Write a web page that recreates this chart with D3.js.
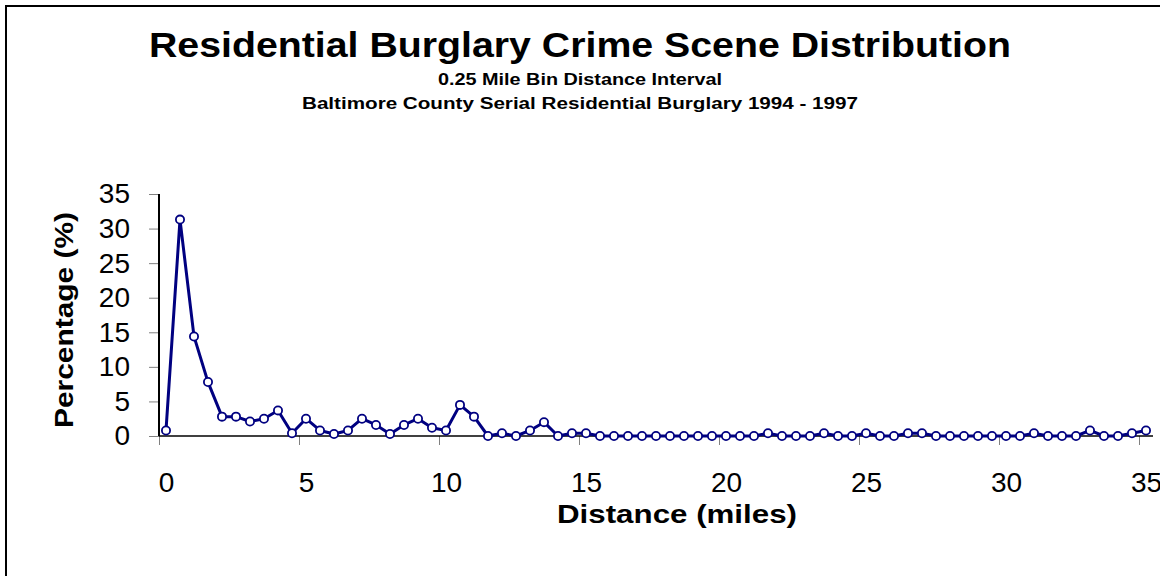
<!DOCTYPE html>
<html>
<head>
<meta charset="utf-8">
<script src="https://cdn.jsdelivr.net/npm/d3@7"></script>
<style>
  html, body { margin: 0; padding: 0; background: #fff; overflow: hidden; }
  svg { display: block; font-family: "Liberation Sans", Arial, sans-serif; }
</style>
</head>
<body>
<svg id="chart" width="1160" height="576"></svg>
<script>
// ---- data ----
const distances = ["0","0.5","1","1.5","2","2.5","3","3.5","4","4.5","5","5.5","6","6.5","7","7.5","8","8.5","9","9.5",
  "10","10.5","11","11.5","12","12.5","13","13.5","14","14.5","15","15.5","16","16.5","17","17.5","18","18.5","19","19.5",
  "20","20.5","21","21.5","22","22.5","23","23.5","24","24.5","25","25.5","26","26.5","27","27.5","28","28.5","29","29.5",
  "30","30.5","31","31.5","32","32.5","33","33.5","34","34.5","35"];
const percentages = [0.8,31.3,14.4,7.8,2.8,2.8,2.1,2.5,3.7,0.4,
  2.5,0.8,0.3,0.8,2.5,1.6,0.3,1.6,2.5,1.2,
  0.8,4.5,2.8,0,0.4,0,0.8,2.0,0,0.4,
  0.4,0,0,0,0,0,0,0,0,0,
  0,0,0,0.4,0,0,0,0.4,0,0,
  0.4,0,0,0.4,0.4,0,0,0,0,0,
  0,0,0.4,0,0,0,0.8,0,0,0.4,
  0.8];
const xTickLabels = ["0","5","10","15","20","25","30","35"];
const yTickValues = [0,5,10,15,20,25,30,35];
const titleText = "Residential Burglary Crime Scene Distribution";
const subtitle1 = "0.25 Mile Bin Distance Interval";
const subtitle2 = "Baltimore County Serial Residential Burglary 1994 - 1997";
const xTitle = "Distance (miles)";
const yTitle = "Percentage (%)";

// ---- layout ----
const svg = d3.select("#chart");
const plotLeft = 159, plotRight = 1153, plotTop = 194, plotBottom = 436;
const navy = "#000080";

// outer frame
svg.append("rect").attr("x", 6).attr("y", 6).attr("width", 1200).attr("height", 620)
  .attr("fill", "none").attr("stroke", "#000").attr("stroke-width", 2);

const x = d3.scaleBand().domain(distances).range([plotLeft, plotRight]).padding(0);
const xc = d => x(d) + x.bandwidth() / 2;
const y = d3.scaleLinear().domain([0, 35]).range([plotBottom, plotTop]);

// x ticks at category boundaries
const xEdge = d3.scaleLinear().domain([0, distances.length]).range([plotLeft, plotRight]);
const gxt = svg.append("g").attr("transform", `translate(0,${plotBottom})`)
  .call(d3.axisBottom(xEdge).tickValues(d3.range(0, distances.length, 10)).tickFormat("").tickSize(9).tickSizeOuter(0));
gxt.select(".domain").remove();
gxt.selectAll(".tick line").attr("stroke", "#808080").attr("stroke-width", 1);

// x labels at category centers
const xp = d3.scalePoint().domain(distances).range([xc(distances[0]), xc(distances[distances.length - 1])]);
const gxl = svg.append("g").attr("transform", `translate(0,${plotBottom})`)
  .call(d3.axisBottom(xp).tickValues(xTickLabels).tickSize(0).tickPadding(36));
gxl.select(".domain").remove();
gxl.selectAll("text").attr("font-size", 28).attr("font-family", "Liberation Sans, Arial, sans-serif").attr("fill", "#000");

// x axis line
svg.append("line").attr("x1", plotLeft).attr("x2", plotRight).attr("y1", plotBottom).attr("y2", plotBottom)
  .attr("stroke", "#000").attr("stroke-width", 1.5);

// y axis
const gy = svg.append("g").attr("transform", `translate(${plotLeft},0)`)
  .call(d3.axisLeft(y).tickValues(yTickValues).tickSize(10).tickPadding(19).tickSizeOuter(0));
gy.select(".domain").remove();
gy.selectAll(".tick line").attr("stroke", "#808080").attr("stroke-width", 1);
gy.selectAll("text").attr("font-size", 28).attr("font-family", "Liberation Sans, Arial, sans-serif").attr("fill", "#000");
svg.append("line").attr("x1", plotLeft).attr("x2", plotLeft).attr("y1", plotTop).attr("y2", plotBottom)
  .attr("stroke", "#000").attr("stroke-width", 2);

// line
const pts = distances.map((d, i) => ({d, v: percentages[i]}));
svg.append("path").datum(pts)
  .attr("fill", "none").attr("stroke", navy).attr("stroke-width", 3).attr("stroke-linejoin", "round")
  .attr("d", d3.line().x(p => xc(p.d)).y(p => y(p.v)));
svg.append("g").selectAll("circle").data(pts).join("circle")
  .attr("cx", p => xc(p.d)).attr("cy", p => y(p.v)).attr("r", 4.1)
  .attr("fill", "#fff").attr("stroke", navy).attr("stroke-width", 1.8);

// titles
svg.append("text").attr("x", 580).attr("y", 57).attr("text-anchor", "middle")
  .attr("font-size", 35).attr("font-weight", "bold").attr("textLength", 862).attr("lengthAdjust", "spacingAndGlyphs")
  .text(titleText);
svg.append("text").attr("x", 580).attr("y", 85).attr("text-anchor", "middle")
  .attr("font-size", 16).attr("font-weight", "bold").attr("textLength", 284).attr("lengthAdjust", "spacingAndGlyphs")
  .text(subtitle1);
svg.append("text").attr("x", 580).attr("y", 109).attr("text-anchor", "middle")
  .attr("font-size", 16).attr("font-weight", "bold").attr("textLength", 556).attr("lengthAdjust", "spacingAndGlyphs")
  .text(subtitle2);
svg.append("text").attr("x", 677).attr("y", 523).attr("text-anchor", "middle")
  .attr("font-size", 25).attr("font-weight", "bold").attr("textLength", 240).attr("lengthAdjust", "spacingAndGlyphs")
  .text(xTitle);
svg.append("text").attr("transform", "translate(73,320) rotate(-90)").attr("text-anchor", "middle")
  .attr("font-size", 25).attr("font-weight", "bold").attr("textLength", 216).attr("lengthAdjust", "spacingAndGlyphs")
  .text(yTitle);
</script>
</body>
</html>
